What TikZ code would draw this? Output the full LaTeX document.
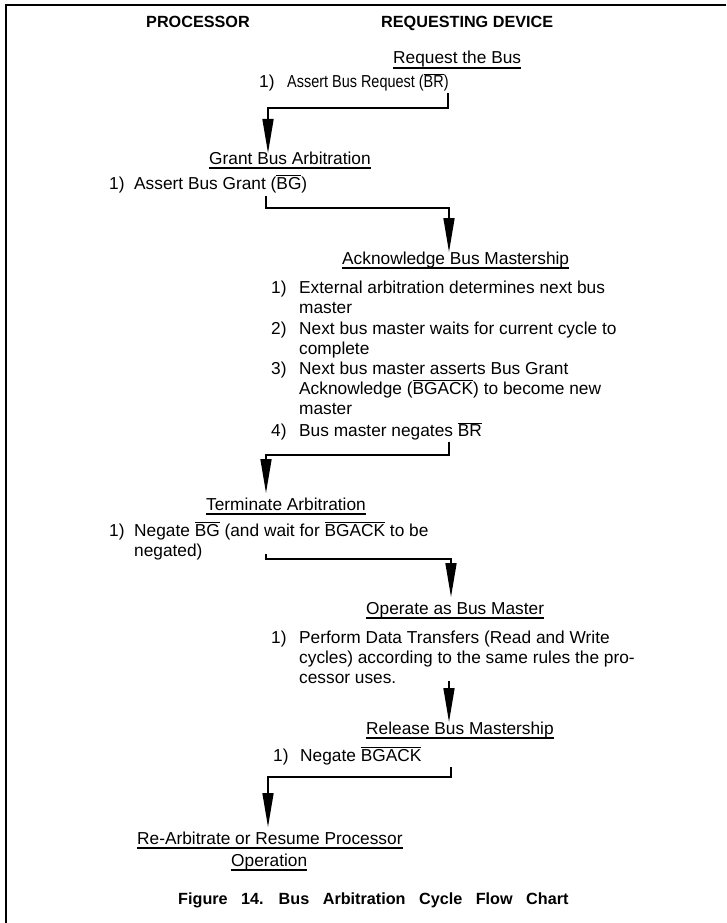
\documentclass[tikz,border=0pt]{standalone}
\usepackage{graphicx}
\usepackage{fontspec}
\setmainfont{Liberation Sans}
\usetikzlibrary{arrows.meta}
\newcommand\ovl[1]{\ensuremath{\overline{\mbox{#1}}}}
\begin{document}
\begin{tikzpicture}[x=1pt,y=-1pt,
  txt/.style={anchor=base west,inner sep=0pt,font=\fontsize{17.3}{20}\selectfont},
  colhd/.style={anchor=base west,inner sep=0pt,font=\fontsize{16.2}{20}\selectfont\bfseries},
  ul/.style={line width=1.5pt},
  flow/.style={line width=1.6pt,-{Triangle[length=34pt,width=11pt]}},
  pageframe/.style={line width=2.2pt}]
\useasboundingbox (0,0) rectangle (726,923);
\draw[pageframe] (726,5) -- (6,5) -- (6,923);

% column headings
\node[colhd] (proc) at (146,28) {PROCESSOR};
\node[colhd] (reqd) at (381,28) {REQUESTING DEVICE};

% Request the Bus
\node[txt] (h1) at (393,64) {Request the Bus};
\node[txt] (n1a) at (259,88) {1)};
\node[txt] (t1a) at (287,88) {\scalebox{0.835}[1]{Assert Bus Request (\ovl{BR})}};

% Grant Bus Arbitration
\node[txt] (h2) at (209,164) {Grant Bus Arbitration};
\node[txt] (n2a) at (109,189) {1)};
\node[txt] (t2a) at (134,189) {Assert Bus Grant (\ovl{BG})};

% Acknowledge Bus Mastership
\node[txt] (h3) at (342,264) {Acknowledge Bus Mastership};
\node[txt] (n3a) at (271,293) {1)};
\node[txt] (t3a) at (299,293) {External arbitration determines next bus};
\node[txt] (t3b) at (299,313) {master};
\node[txt] (n3c) at (271,334) {2)};
\node[txt] (t3c) at (299,334) {Next bus master waits for current cycle to};
\node[txt] (t3d) at (299,354) {complete};
\node[txt] (n3e) at (271,374) {3)};
\node[txt] (t3e) at (299,374) {Next bus master asserts Bus Grant};
\node[txt] (t3f) at (299,394) {Acknowledge (\ovl{BGACK}) to become new};
\node[txt] (t3g) at (299,414) {master};
\node[txt] (n3h) at (271,436) {4)};
\node[txt] (t3h) at (299,436) {Bus master negates \ovl{BR}};

% Terminate Arbitration
\node[txt] (h4) at (206,510) {Terminate Arbitration};
\node[txt] (n4a) at (109,536) {1)};
\node[txt] (t4a) at (134,536) {Negate \ovl{BG} (and wait for \ovl{BGACK} to be};
\node[txt] (t4b) at (134,556) {negated)};

% Operate as Bus Master
\node[txt] (h5) at (366,614) {Operate as Bus Master};
\node[txt] (n5a) at (271,643) {1)};
\node[txt] (t5a) at (299,643) {Perform Data Transfers (Read and Write};
\node[txt] (t5b) at (299,663) {cycles) according to the same rules the pro-};
\node[txt] (t5c) at (299,683) {cessor uses.};

% Release Bus Mastership
\node[txt] (h6) at (366,734) {Release Bus Mastership};
\node[txt] (n6a) at (273,761) {1)};
\node[txt] (t6a) at (300,761) {Negate \ovl{BGACK}};

% Re-Arbitrate
\node[txt] (h7) at (137,844) {Re-Arbitrate or Resume Processor};
\node[txt] (h7b) at (231,866) {Operation};

% caption
\node[colhd] (cap) at (178,904) {\spaceskip=13.5pt Figure 14. Bus Arbitration Cycle Flow Chart};

% underlines
\foreach \n in {h1,h2,h3,h4,h5,h6,h7,h7b}
  \draw[ul] ([yshift=-4pt]\n.base west) -- ([yshift=-4pt]\n.base east);

% connectors
\coordinate (s1) at (448,93);  \coordinate (e1) at (268,153);
\coordinate (s2) at (266,196); \coordinate (e2) at (449,252);
\coordinate (s3) at (449,442); \coordinate (e3) at (266,493);
\coordinate (s4) at (266,554); \coordinate (e4) at (451,597);
\coordinate (s5) at (449,681); \coordinate (e5) at (449,722);
\coordinate (s6) at (451,767); \coordinate (e6) at (268,827);

\draw[flow] (s1) -- ++(0,15) -| (e1);
\draw[flow] (s2) -- ++(0,12) -| (e2);
\draw[flow] (s3) -- ++(0,13) -| (e3);
\draw[flow] (s4) -- ++(0,5) -| (e4);
\draw[flow] (s5) -- (e5);
\draw[flow] (s6) -- ++(0,10) -| (e6);
\end{tikzpicture}
\end{document}
